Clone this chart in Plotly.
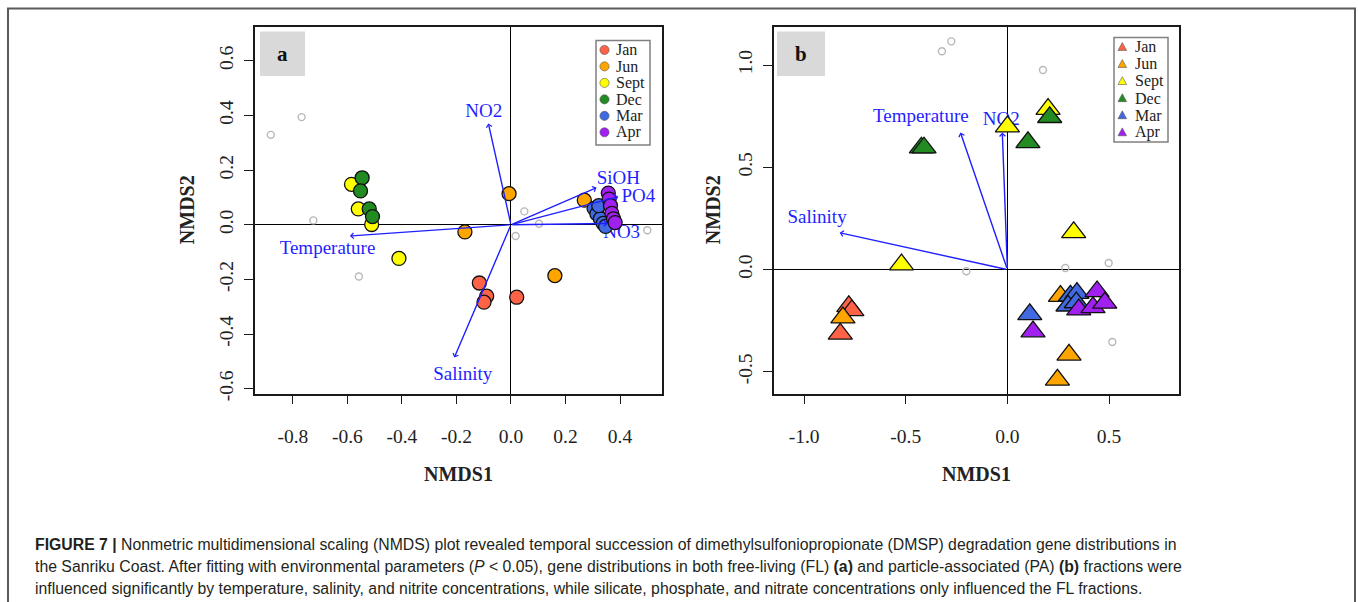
import plotly.graph_objects as go

W, H = 1358, 602

# ---------------- data ----------------
months = ["Jan", "Jun", "Sept", "Dec", "Mar", "Apr"]
month_colors = ["#FF6347", "#FFA500", "#FFFF00", "#228B22", "#4169E1", "#A020F0"]

# (a) free-living fraction: NMDS site scores
fl_jan_x = [-0.116, -0.089, -0.099, 0.021]
fl_jan_y = [-0.213, -0.261, -0.283, -0.265]
fl_jun_x = [-0.169, -0.007, 0.269, 0.161]
fl_jun_y = [-0.026, 0.114, 0.090, -0.186]
fl_sept_x = [-0.585, -0.560, -0.511, -0.411]
fl_sept_y = [0.148, 0.058, 0.001, -0.123]
fl_dec_x = [-0.546, -0.552, -0.520, -0.508]
fl_dec_y = [0.172, 0.124, 0.058, 0.030]
fl_mar_x = [0.305, 0.315, 0.328, 0.338, 0.347, 0.322]
fl_mar_y = [0.060, 0.040, 0.022, 0.005, -0.006, 0.070]
fl_apr_x = [0.357, 0.360, 0.365, 0.370, 0.376, 0.382]
fl_apr_y = [0.116, 0.094, 0.070, 0.042, 0.022, 0.008]

# (a) gene scores
fl_gene_x = [-0.881, -0.768, -0.725, -0.558, 0.049, 0.103, 0.017, 0.500]
fl_gene_y = [0.329, 0.394, 0.016, -0.189, 0.049, 0.004, -0.041, -0.020]

# (a) fitted environmental vectors
fl_env_names = ["Temperature", "Salinity", "NO2", "SiOH", "PO4", "NO3"]
fl_env_x = [-0.591, -0.208, -0.083, 0.314, 0.394, 0.355]
fl_env_y = [-0.041, -0.486, 0.371, 0.136, 0.103, 0.005]
fl_env_label_x = [-0.673, -0.177, -0.100, 0.394, 0.467, 0.406]
fl_env_label_y = [-0.089, -0.550, 0.410, 0.166, 0.100, -0.032]

# (b) particle-associated fraction: NMDS site scores
pa_jan_x = [-0.780, -0.765, -0.822]
pa_jan_y = [-0.180, -0.200, -0.314]
pa_jun_x = [-0.809, 0.261, 0.303, 0.246]
pa_jun_y = [-0.235, -0.130, -0.417, -0.539]
pa_sept_x = [0.200, 0.000, 0.326, -0.521]
pa_sept_y = [0.785, 0.699, 0.182, 0.024]
pa_dec_x = [0.208, 0.101, -0.423, -0.410]
pa_dec_y = [0.745, 0.622, 0.596, 0.596]
pa_mar_x = [0.110, 0.310, 0.342, 0.298, 0.339]
pa_mar_y = [-0.219, -0.128, -0.115, -0.177, -0.161]
pa_apr_x = [0.126, 0.351, 0.421, 0.441, 0.479]
pa_apr_y = [-0.303, -0.196, -0.185, -0.107, -0.163]

# (b) gene scores
pa_gene_x = [-0.322, -0.276, 0.175, -0.202, 0.285, 0.498, 0.516, 0.438]
pa_gene_y = [1.068, 1.116, 0.976, -0.008, 0.008, 0.032, -0.354, -0.145]

# (b) fitted environmental vectors
pa_env_names = ["Salinity", "Temperature", "NO2"]
pa_env_x = [-0.825, -0.231, -0.025]
pa_env_y = [0.180, 0.670, 0.670]
pa_env_label_x = [-0.936, -0.426, -0.030]
pa_env_label_y = [0.252, 0.744, 0.731]

# axis ticks
fl_xticks = [-0.8, -0.6, -0.4, -0.2, 0.0, 0.2, 0.4]
fl_xtick_text = ["-0.8", "-0.6", "-0.4", "-0.2", "0.0", "0.2", "0.4"]
fl_yticks = [-0.6, -0.4, -0.2, 0.0, 0.2, 0.4, 0.6]
fl_ytick_text = ["-0.6", "-0.4", "-0.2", "0.0", "0.2", "0.4", "0.6"]
pa_xticks = [-1.0, -0.5, 0.0, 0.5]
pa_xtick_text = ["-1.0", "-0.5", "0.0", "0.5"]
pa_yticks = [-0.5, 0.0, 0.5, 1.0]
pa_ytick_text = ["-0.5", "0.0", "0.5", "1.0"]

fl_sites = [(fl_jan_x, fl_jan_y), (fl_jun_x, fl_jun_y), (fl_sept_x, fl_sept_y),
            (fl_dec_x, fl_dec_y), (fl_mar_x, fl_mar_y), (fl_apr_x, fl_apr_y)]
pa_sites = [(pa_jan_x, pa_jan_y), (pa_jun_x, pa_jun_y), (pa_sept_x, pa_sept_y),
            (pa_dec_x, pa_dec_y), (pa_mar_x, pa_mar_y), (pa_apr_x, pa_apr_y)]

# ---------------- helpers (pixel -> paper) ----------------
def px(x):
    return x / W


def py(y):
    return 1 - y / H


SERIF = "Liberation Serif, Times New Roman, serif"
SANS = "Liberation Sans, Arial, sans-serif"
ARROW = "#1f1fff"
AXIS_COL = "#1a1a1a"

fig = go.Figure()

# gene scores (small open grey circles)
fig.add_trace(go.Scatter(x=fl_gene_x, y=fl_gene_y, mode="markers", xaxis="x", yaxis="y",
                         marker=dict(symbol="circle-open", size=7, color="#b8b8b8",
                                     line=dict(width=1.4)),
                         showlegend=False, hoverinfo="skip"))
fig.add_trace(go.Scatter(x=pa_gene_x, y=pa_gene_y, mode="markers", xaxis="x2", yaxis="y2",
                         marker=dict(symbol="circle-open", size=7, color="#b8b8b8",
                                     line=dict(width=1.4)),
                         showlegend=False, hoverinfo="skip"))

# vector labels
fig.add_trace(go.Scatter(x=fl_env_label_x, y=fl_env_label_y, text=fl_env_names, mode="text",
                         xaxis="x", yaxis="y", textfont=dict(family=SERIF, size=19, color=ARROW),
                         showlegend=False, hoverinfo="skip"))
fig.add_trace(go.Scatter(x=pa_env_label_x, y=pa_env_label_y, text=pa_env_names, mode="text",
                         xaxis="x2", yaxis="y2", textfont=dict(family=SERIF, size=19, color=ARROW),
                         showlegend=False, hoverinfo="skip"))

# site scores by month
for (xs, ys), name, col in zip(fl_sites, months, month_colors):
    fig.add_trace(go.Scatter(x=xs, y=ys, mode="markers", name=name, xaxis="x", yaxis="y",
                             marker=dict(symbol="circle", size=14, color=col,
                                         line=dict(color="#111111", width=1.3)),
                             showlegend=False))
for (xs, ys), name, col in zip(pa_sites, months, month_colors):
    fig.add_trace(go.Scatter(x=xs, y=ys, mode="markers", name=name, xaxis="x2", yaxis="y2",
                             marker=dict(symbol="triangle-up", size=21, color=col,
                                         line=dict(color="#111111", width=1.3)),
                             showlegend=False))

annotations = []
shapes = []

# environmental vectors as arrows from the origin
for xs, ys, xr, yr in [(fl_env_x, fl_env_y, "x", "y"), (pa_env_x, pa_env_y, "x2", "y2")]:
    for ex, ey in zip(xs, ys):
        annotations.append(dict(x=ex, y=ey, ax=0, ay=0, xref=xr, yref=yr, axref=xr, ayref=yr,
                                text="", showarrow=True, arrowhead=4, arrowsize=0.8,
                                arrowwidth=1.4, arrowcolor=ARROW, standoff=0, startstandoff=0))

# panel frames (in pixels)
panel_a = (255, 662, 27, 399)
panel_b = (774, 1179, 27, 399)

axis_common = dict(showline=True, mirror=True, linecolor=AXIS_COL, linewidth=1.5,
                   ticks="outside", ticklen=9, tickwidth=1.4, tickcolor=AXIS_COL,
                   showgrid=False, zeroline=True, zerolinecolor="#000000", zerolinewidth=1.2,
                   tickfont=dict(family=SERIF, size=19.5, color="#222222"), fixedrange=True)

layout_axes = dict(
    xaxis=dict(axis_common, domain=[px(panel_a[0]), px(panel_a[1])], range=[-0.939, 0.554],
               tickvals=fl_xticks, ticktext=fl_xtick_text, anchor="y", ticklabelstandoff=15),
    yaxis=dict(axis_common, domain=[py(panel_a[3]), py(panel_a[2])], range=[-0.618, 0.725],
               tickvals=fl_yticks, ticktext=fl_ytick_text, anchor="x", tickangle=-90,
               ticklabelstandoff=3),
    xaxis2=dict(axis_common, domain=[px(panel_b[0]), px(panel_b[1])], range=[-1.148, 0.844],
                tickvals=pa_xticks, ticktext=pa_xtick_text, anchor="y2", ticklabelstandoff=15),
    yaxis2=dict(axis_common, domain=[py(panel_b[3]), py(panel_b[2])], range=[-0.607, 1.188],
                tickvals=pa_yticks, ticktext=pa_ytick_text, anchor="x2", tickangle=-90,
                ticklabelstandoff=3),
)

# axis titles
for (l, r, t, b), ylab_x in [(panel_a, 187), (panel_b, 713)]:
    annotations.append(dict(x=px((l + r) / 2), y=py(480), xref="paper", yref="paper",
                            text="<b>NMDS1</b>", showarrow=False, xanchor="center", yanchor="middle",
                            font=dict(family=SERIF, size=20, color="#222222")))
    annotations.append(dict(x=px(ylab_x), y=py((t + b) / 2), xref="paper", yref="paper",
                            text="<b>NMDS2</b>", showarrow=False, textangle=-90,
                            xanchor="center", yanchor="middle",
                            font=dict(family=SERIF, size=20, color="#222222")))

# panel letters on grey tags
for (x0, x1, y0, y1), letter in [((260, 305, 32, 77), "a"), ((777, 825, 32, 77), "b")]:
    shapes.append(dict(type="rect", xref="paper", yref="paper", x0=px(x0), x1=px(x1),
                       y0=py(y1), y1=py(y0), fillcolor="#d9d9d9", line=dict(width=0), layer="above"))
    annotations.append(dict(x=px((x0 + x1) / 2), y=py((y0 + y1) / 2), xref="paper", yref="paper",
                            text="<b>%s</b>" % letter, showarrow=False,
                            xanchor="center", yanchor="middle",
                            font=dict(family=SERIF, size=21, color="#111111")))

# legends
def legend_box(x0, x1, y0, y1):
    shapes.append(dict(type="rect", xref="paper", yref="paper", x0=px(x0), x1=px(x1),
                       y0=py(y1), y1=py(y0), fillcolor="white",
                       line=dict(color="#808080", width=1.5), layer="above"))


legend_box(596, 650, 41, 147)
for i, (name, col) in enumerate(zip(months, month_colors)):
    cy = 50.6 + i * 16.7
    cx = 604.5
    r = 4.6
    shapes.append(dict(type="circle", xref="paper", yref="paper", x0=px(cx - r), x1=px(cx + r),
                       y0=py(cy + r), y1=py(cy - r), fillcolor=col,
                       line=dict(color="#555555", width=0.6), layer="above"))
    annotations.append(dict(x=px(614), y=py(cy), xref="paper", yref="paper", text=name,
                            showarrow=False, xanchor="left", yanchor="middle",
                            font=dict(family=SERIF, size=16, color="#222222")))

legend_box(1114, 1168, 38, 144)
for i, (name, col) in enumerate(zip(months, month_colors)):
    cy = 47.5 + i * 17.3
    cx = 1122.3
    path = "M %f,%f L %f,%f L %f,%f Z" % (px(cx - 4.3), py(cy + 3.6), px(cx + 4.3), py(cy + 3.6),
                                          px(cx), py(cy - 4.4))
    shapes.append(dict(type="path", xref="paper", yref="paper", path=path, fillcolor=col,
                       line=dict(color="#555555", width=0.6), layer="above"))
    annotations.append(dict(x=px(1133), y=py(cy), xref="paper", yref="paper", text=name,
                            showarrow=False, xanchor="left", yanchor="middle",
                            font=dict(family=SERIF, size=16, color="#222222")))

# outer figure frame
shapes.append(dict(type="rect", xref="paper", yref="paper", x0=px(8), x1=px(1355),
                   y0=-0.2, y1=py(8.5), line=dict(color="#5a5a5a", width=2), layer="above"))

# caption
caption_lines = [
    "<b>FIGURE 7 |</b> Nonmetric multidimensional scaling (NMDS) plot revealed temporal succession "
    "of dimethylsulfoniopropionate (DMSP) degradation gene distributions in",
    "the Sanriku Coast. After fitting with environmental parameters (<i>P</i> &lt; 0.05), gene "
    "distributions in both free-living (FL) <b>(a)</b> and particle-associated (PA) <b>(b)</b> fractions were",
    "influenced significantly by temperature, salinity, and nitrite concentrations, while silicate, "
    "phosphate, and nitrate concentrations only influenced the FL fractions.",
]
for i, line in enumerate(caption_lines):
    annotations.append(dict(x=px(33), y=py(551.5 + i * 22.6), xref="paper", yref="paper",
                            text=line, showarrow=False, xanchor="left", yanchor="middle",
                            font=dict(family=SANS, size=15.8, color="#231F20")))

fig.update_layout(
    width=W, height=H,
    margin=dict(l=0, r=0, t=0, b=0),
    paper_bgcolor="white", plot_bgcolor="white",
    showlegend=False,
    annotations=annotations,
    shapes=shapes,
    **layout_axes,
)

fig.write_html("out.html", config={"displayModeBar": False})
